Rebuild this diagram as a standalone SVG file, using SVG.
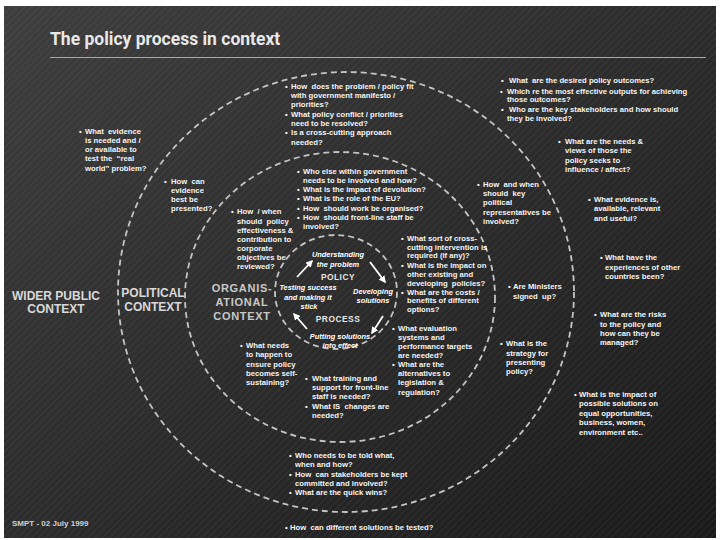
<svg xmlns="http://www.w3.org/2000/svg" width="720" height="540" viewBox="0 0 720 540">
<defs>
<linearGradient id="bg" x1="0" y1="0" x2="1" y2="1">
<stop offset="0" stop-color="#3e3e3e"/>
<stop offset="0.5" stop-color="#2c2c2c"/>
<stop offset="1" stop-color="#1a1a1a"/>
</linearGradient>
<pattern id="stripes" width="5" height="5" patternUnits="userSpaceOnUse" patternTransform="rotate(45)">
<line x1="2.5" y1="0" x2="2.5" y2="5" stroke="#ffffff" stroke-opacity="0.06" stroke-width="1"/>
</pattern>
<marker id="ah" viewBox="0 0 10 10" refX="8" refY="5" markerWidth="4" markerHeight="4" orient="auto">
<path d="M0,0 L10,5 L0,10 z" fill="#ffffff"/>
</marker>
<style>
.t{font-family:"Liberation Sans",Arial,sans-serif;font-size:7.7px;font-weight:bold;fill:#f4f4f4;white-space:pre}
.ctx{font-family:"Liberation Sans",Arial,sans-serif;font-size:12px;font-weight:bold;fill:#d9d9d9;text-anchor:middle}
.org{font-size:11px;letter-spacing:0.7px;fill:#c9c9c9}
.cyc{font-family:"Liberation Sans",Arial,sans-serif;font-style:italic;font-weight:bold;font-size:7.4px;fill:#ffffff;text-anchor:middle}
.cap{font-family:"Liberation Sans",Arial,sans-serif;font-weight:bold;font-size:8.4px;letter-spacing:0.5px;fill:#e6e6e6;text-anchor:middle}
.ring{fill:none;stroke:#c4c4c4;stroke-width:1.8;stroke-dasharray:6 4}
.arr{fill:none;stroke:#ffffff;stroke-width:1.8;marker-end:url(#ah)}
</style>
</defs>
<rect x="0" y="0" width="720" height="540" fill="#ffffff"/>
<rect x="4" y="6" width="712" height="532" fill="url(#bg)"/>
<rect x="4" y="6" width="712" height="532" fill="url(#stripes)"/>

<g id="title">
<text x="50" y="45" font-family="Roboto,'Liberation Sans',sans-serif" font-weight="bold" font-size="17.5" fill="#e8e8e8">The policy process in context</text>
<line x1="50" y1="57.5" x2="706" y2="57.5" stroke="#a8a8a8" stroke-width="1"/>
</g>

<g id="rings">
<ellipse class="ring" cx="346" cy="292" rx="228" ry="220"/>
<ellipse class="ring" cx="340" cy="297" rx="155" ry="145"/>
<ellipse class="ring" cx="336" cy="292" rx="61" ry="57"/>
</g>

<g id="ctx-wider">
<text class="ctx"><tspan x="56" y="300">WIDER PUBLIC</tspan><tspan x="56" y="313">CONTEXT</tspan></text>
</g>
<g id="ctx-political">
<text class="ctx"><tspan x="153" y="297">POLITICAL</tspan><tspan x="153" y="311">CONTEXT</tspan></text>
</g>
<g id="ctx-organisational">
<text class="ctx org"><tspan x="242" y="292">ORGANIS-</tspan><tspan x="242" y="306">ATIONAL</tspan><tspan x="242" y="320">CONTEXT</tspan></text>
</g>

<g id="policy-cycle">
<text class="cyc"><tspan x="338" y="257">Understanding</tspan></text>
<text class="cyc" font-size="8.4"><tspan x="338" y="266.5">the problem</tspan></text>
<text class="cap"><tspan x="338" y="280">POLICY</tspan></text>
<text class="cyc"><tspan x="308" y="290">Testing success</tspan><tspan x="308" y="300">and making it</tspan><tspan x="309" y="309">stick</tspan></text>
<text class="cyc"><tspan x="373" y="294">Developing</tspan></text>
<text class="cyc" font-size="6.7"><tspan x="373" y="302.5">solutions</tspan></text>
<text class="cap"><tspan x="338" y="322">PROCESS</tspan></text>
<text class="cyc"><tspan x="340" y="339">Putting solutions</tspan><tspan x="340" y="348">into effect</tspan></text>
</g>

<g id="connectors">
<line class="arr" x1="297" y1="277" x2="312" y2="261"/>
<line class="arr" x1="370" y1="262" x2="385" y2="282"/>
<line class="arr" x1="383" y1="316" x2="372" y2="333"/>
<line class="arr" x1="307" y1="329" x2="294" y2="314"/>
</g>

<g id="q-political-top">
<text class="t"><tspan x="285" y="89">•</tspan><tspan x="285" y="117">•</tspan><tspan x="285" y="135">•</tspan></text>
<text class="t"><tspan x="291" y="89">How  does the problem / policy fit</tspan><tspan x="291" y="98">with government manifesto /</tspan><tspan x="291" y="107">priorities?</tspan><tspan x="291" y="117">What policy conflict / priorities</tspan><tspan x="291" y="126">need to be resolved?</tspan><tspan x="291" y="135">Is a cross-cutting approach</tspan><tspan x="291" y="145">needed?</tspan></text>
</g>

<g id="q-wider-top-right">
<text class="t"><tspan x="501" y="83">•</tspan><tspan x="500" y="93.5">•</tspan><tspan x="501" y="112">•</tspan></text>
<text class="t"><tspan x="509" y="83">What  are the desired policy outcomes?</tspan><tspan x="507" y="93.5">Which re the most effective outputs for achieving</tspan><tspan x="507" y="102">those outcomes?</tspan><tspan x="509" y="112">Who are the key stakeholders and how should</tspan><tspan x="507" y="121">they be involved?</tspan></text>
</g>

<g id="q-wider-left">
<text class="t"><tspan x="79" y="134">•</tspan></text>
<text class="t"><tspan x="85" y="134">What  evidence</tspan><tspan x="85" y="143">is needed and /</tspan><tspan x="85" y="152">or available to</tspan><tspan x="85" y="161">test the  “real</tspan><tspan x="85" y="171">world” problem?</tspan></text>
</g>

<g id="q-political-left">
<text class="t"><tspan x="164" y="184">•</tspan></text>
<text class="t"><tspan x="171" y="184">How  can</tspan><tspan x="171" y="193">evidence</tspan><tspan x="171" y="202">best be</tspan><tspan x="171" y="211">presented?</tspan></text>
</g>

<g id="q-org-top">
<text class="t"><tspan x="297" y="174">•</tspan><tspan x="297" y="192">•</tspan><tspan x="297" y="201">•</tspan><tspan x="297" y="211">•</tspan><tspan x="297" y="220">•</tspan></text>
<text class="t"><tspan x="303" y="174">Who else within government</tspan><tspan x="303" y="183">needs to be involved and how?</tspan><tspan x="303" y="192">What is the impact of devolution?</tspan><tspan x="303" y="201">What is the role of the EU?</tspan><tspan x="303" y="211">How  should work be organised?</tspan><tspan x="303" y="220">How  should front-line staff be</tspan><tspan x="303" y="229">involved?</tspan></text>
</g>

<g id="q-org-left">
<text class="t"><tspan x="231" y="214">•</tspan></text>
<text class="t"><tspan x="237" y="214">How  / when</tspan><tspan x="237" y="224">should  policy</tspan><tspan x="237" y="233">effectiveness &amp;</tspan><tspan x="237" y="242">contribution to</tspan><tspan x="237" y="251">corporate</tspan><tspan x="237" y="260">objectives be</tspan><tspan x="237" y="269">reviewed?</tspan></text>
</g>

<g id="q-org-right-top">
<text class="t"><tspan x="401" y="241">•</tspan><tspan x="401" y="268">•</tspan><tspan x="401" y="295">•</tspan></text>
<text class="t"><tspan x="407" y="241">What sort of cross-</tspan><tspan x="407" y="250">cutting intervention is</tspan><tspan x="407" y="258">required (if any)?</tspan><tspan x="407" y="268">What is the impact on</tspan><tspan x="407" y="277">other existing and</tspan><tspan x="407" y="286">developing  policies?</tspan><tspan x="407" y="295">What are the costs /</tspan><tspan x="407" y="303">benefits of different</tspan><tspan x="407" y="312">options?</tspan></text>
</g>

<g id="q-org-right-bottom">
<text class="t"><tspan x="392" y="331">•</tspan><tspan x="392" y="367">•</tspan></text>
<text class="t"><tspan x="398" y="331">What evaluation</tspan><tspan x="398" y="340">systems and</tspan><tspan x="398" y="349">performance targets</tspan><tspan x="398" y="358">are needed?</tspan><tspan x="398" y="367">What are the</tspan><tspan x="398" y="376">alternatives to</tspan><tspan x="398" y="385">legislation &amp;</tspan><tspan x="398" y="395">regulation?</tspan></text>
</g>

<g id="q-org-bottom-left">
<text class="t"><tspan x="240" y="348">•</tspan></text>
<text class="t"><tspan x="246" y="348">What needs</tspan><tspan x="246" y="357">to happen to</tspan><tspan x="246" y="367">ensure policy</tspan><tspan x="246" y="376">becomes self-</tspan><tspan x="246" y="385">sustaining?</tspan></text>
</g>

<g id="q-org-bottom">
<text class="t"><tspan x="305" y="381">•</tspan><tspan x="305" y="409">•</tspan></text>
<text class="t"><tspan x="312" y="381">What training and</tspan><tspan x="312" y="390">support for front-line</tspan><tspan x="312" y="399">staff is needed?</tspan><tspan x="312" y="409">What IS  changes are</tspan><tspan x="312" y="418">needed?</tspan></text>
</g>

<g id="q-political-right">
<text class="t"><tspan x="477" y="187">•</tspan></text>
<text class="t"><tspan x="483" y="187">How  and when</tspan><tspan x="483" y="196">should  key</tspan><tspan x="483" y="205">political</tspan><tspan x="483" y="215">representatives be</tspan><tspan x="483" y="224">involved?</tspan></text>
</g>

<g id="q-wider-needs">
<text class="t"><tspan x="558" y="144">•</tspan></text>
<text class="t"><tspan x="565" y="144">What are the needs &amp;</tspan><tspan x="565" y="153">views of those the</tspan><tspan x="565" y="163">policy seeks to</tspan><tspan x="565" y="172">influence / affect?</tspan></text>
</g>

<g id="q-wider-evidence">
<text class="t"><tspan x="588" y="202">•</tspan></text>
<text class="t"><tspan x="594" y="202">What evidence is,</tspan><tspan x="594" y="211">available, relevant</tspan><tspan x="594" y="221">and useful?</tspan></text>
</g>

<g id="q-wider-countries">
<text class="t"><tspan x="600" y="260">•</tspan></text>
<text class="t"><tspan x="605" y="260">What have the</tspan><tspan x="605" y="270">experiences of other</tspan><tspan x="605" y="279">countries been?</tspan></text>
</g>

<g id="q-political-ministers">
<text class="t"><tspan x="508" y="289">•</tspan></text>
<text class="t"><tspan x="513" y="289">Are Ministers</tspan><tspan x="513" y="299">signed  up?</tspan></text>
</g>

<g id="q-wider-risks">
<text class="t"><tspan x="594" y="317">•</tspan></text>
<text class="t"><tspan x="600" y="317">What are the risks</tspan><tspan x="600" y="327">to the policy and</tspan><tspan x="600" y="336">how can they be</tspan><tspan x="600" y="345">managed?</tspan></text>
</g>

<g id="q-political-strategy">
<text class="t"><tspan x="500" y="346">•</tspan></text>
<text class="t"><tspan x="506" y="346">What is the</tspan><tspan x="506" y="356">strategy for</tspan><tspan x="506" y="365">presenting</tspan><tspan x="506" y="374">policy?</tspan></text>
</g>

<g id="q-wider-impact">
<text class="t"><tspan x="574" y="397">•</tspan></text>
<text class="t"><tspan x="579" y="397">What is the impact of</tspan><tspan x="579" y="406">possible solutions on</tspan><tspan x="579" y="416">equal opportunities,</tspan><tspan x="579" y="425">business, women,</tspan><tspan x="579" y="435">environment etc..</tspan></text>
</g>

<g id="q-political-bottom">
<text class="t"><tspan x="289" y="458">•</tspan><tspan x="289" y="477">•</tspan><tspan x="289" y="495">•</tspan></text>
<text class="t"><tspan x="295" y="458">Who needs to be told what,</tspan><tspan x="295" y="467">when and how?</tspan><tspan x="295" y="477">How  can stakeholders be kept</tspan><tspan x="295" y="486">committed and involved?</tspan><tspan x="295" y="495">What are the quick wins?</tspan></text>
</g>

<g id="q-wider-bottom">
<text class="t"><tspan x="285" y="530">•</tspan><tspan x="290" y="530">How  can different solutions be tested?</tspan></text>
</g>

<g id="footer">
<text x="12" y="526" font-family="'Liberation Sans',Arial,sans-serif" font-size="8" font-weight="bold" fill="#d0d0d0">SMPT - 02 July 1999</text>
</g>
</svg>
